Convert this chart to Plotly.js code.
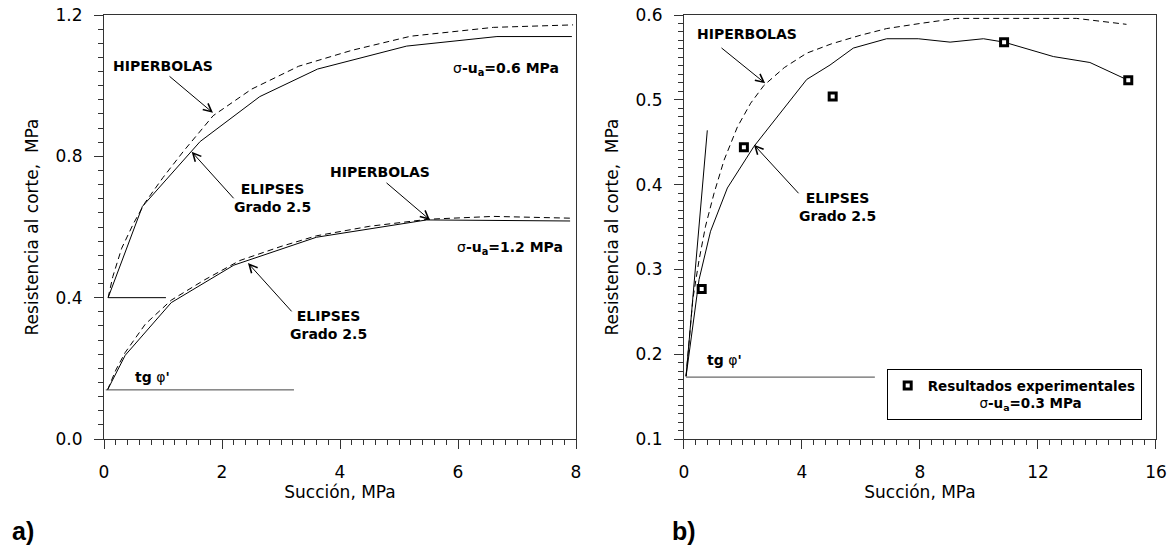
<!DOCTYPE html>
<html>
<head>
<meta charset="utf-8">
<script src="https://cdn.plot.ly/plotly-3.0.1.min.js"></script>
<style>html,body{margin:0;padding:0;background:#fff}#chart{width:1172px;height:550px}</style>
</head>
<body>
<div id="chart"></div>
<script>
// ---- Panel a) : sigma-ua = 0.6 MPa ----
const a06ElipX = [0.07, 0.65, 1.63, 2.64, 3.62, 5.13, 6.66, 7.93];
const a06ElipY = [0.40, 0.658, 0.842, 0.969, 1.047, 1.112, 1.139, 1.139];
const a06HipX = [0.07, 0.15, 0.3, 0.5, 0.7, 1.0, 1.35, 1.85, 2.5, 3.3, 4.2, 5.2, 6.6, 7.95];
const a06HipY = [0.40, 0.46, 0.54, 0.61, 0.67, 0.74, 0.815, 0.915, 0.99, 1.055, 1.10, 1.14, 1.165, 1.172];
const a06TgX = [0.07, 1.05];
const a06TgY = [0.40, 0.40];
// ---- Panel a) : sigma-ua = 1.2 MPa ----
const a12ElipX = [0.06, 0.36, 1.14, 2.2, 3.6, 5.47, 7.9];
const a12ElipY = [0.139, 0.237, 0.386, 0.492, 0.571, 0.62, 0.617];
const a12HipX = [0.06, 0.2, 0.36, 0.7, 1.14, 1.7, 2.3, 3.0, 3.6, 4.5, 5.5, 6.6, 7.9];
const a12HipY = [0.139, 0.195, 0.245, 0.325, 0.393, 0.45, 0.505, 0.545, 0.575, 0.602, 0.622, 0.63, 0.625];
const a12TgX = [0.03, 3.22];
const a12TgY = [0.139, 0.139];
// ---- Panel b) : sigma-ua = 0.3 MPa ----
const bElipX = [0.07, 0.51, 0.90, 1.47, 2.37, 4.16, 4.95, 5.74, 6.87, 7.94, 9.02, 10.15, 10.85, 12.52, 13.76, 15.06];
const bElipY = [0.174, 0.288, 0.345, 0.396, 0.445, 0.524, 0.541, 0.561, 0.572, 0.572, 0.568, 0.572, 0.568, 0.551, 0.544, 0.523];
const bHipX = [0.07, 0.3, 0.51, 0.73, 1.02, 1.36, 1.81, 2.26, 2.71, 3.4, 4.16, 5.0, 5.97, 6.87, 8.0, 9.24, 11.0, 13.3, 15.0];
const bHipY = [0.174, 0.265, 0.311, 0.351, 0.390, 0.429, 0.468, 0.496, 0.517, 0.538, 0.555, 0.566, 0.576, 0.584, 0.59, 0.596, 0.596, 0.596, 0.589];
const bTangX = [0.07, 0.79];
const bTangY = [0.174, 0.464];
const bTgX = [0.07, 6.47];
const bTgY = [0.173, 0.173];
const bExpX = [0.6, 2.03, 5.04, 10.85, 15.06];
const bExpY = [0.277, 0.444, 0.504, 0.568, 0.523];

// tick settings
const aXTicks = {range: [0, 8], dtick: 2, minor: 0.2};
const aYTicks = {range: [0, 1.2], dtick: 0.4, minor: 0.04};
const bXTicks = {range: [0, 16], dtick: 4, minor: 0.4};
const bYTicks = {range: [0.1, 0.6], dtick: 0.1, minor: 0.01};

const FONT = 'DejaVu Sans, Arial, sans-serif';
const solid = {color: '#000', width: 1};
const dashed = {color: '#000', width: 1, dash: '6px,4px'};

function ln(x, y, line, xa, ya) {
  return {x: x, y: y, mode: 'lines', line: line, xaxis: xa, yaxis: ya, showlegend: false, hoverinfo: 'skip'};
}

const traces = [
  ln(a06ElipX, a06ElipY, solid, 'x', 'y'),
  ln(a06HipX, a06HipY, dashed, 'x', 'y'),
  ln(a06TgX, a06TgY, solid, 'x', 'y'),
  ln(a12ElipX, a12ElipY, solid, 'x', 'y'),
  ln(a12HipX, a12HipY, dashed, 'x', 'y'),
  ln(a12TgX, a12TgY, {color: '#444', width: 1}, 'x', 'y'),
  ln(bTangX, bTangY, solid, 'x2', 'y2'),
  ln(bTgX, bTgY, {color: '#444', width: 1}, 'x2', 'y2'),
  ln(bElipX, bElipY, solid, 'x2', 'y2'),
  ln(bHipX, bHipY, dashed, 'x2', 'y2'),
  {
    x: bExpX, y: bExpY, xaxis: 'x2', yaxis: 'y2', mode: 'markers',
    name: '<b>Resultados experimentales</b><br><b>' + '\u00a0'.repeat(11) +
          '<span style="font-weight:normal">σ</span>-u<sub>a</sub>=0.3 MPa</b>',
    marker: {symbol: 'square', size: 7, color: '#fff', line: {color: '#000', width: 3}},
    showlegend: true, hoverinfo: 'skip'
  }
];

function axis(t, extra) {
  return Object.assign({
    range: t.range, dtick: t.dtick, tick0: 0, autorange: false,
    ticks: 'outside', ticklen: 9, tickwidth: 1, tickcolor: '#333',
    minor: {dtick: t.minor, tick0: 0, ticks: 'outside', ticklen: 5, tickwidth: 1, tickcolor: '#333', showgrid: false},
    showline: true, mirror: true, linecolor: '#333', linewidth: 1,
    showgrid: false, zeroline: false,
    tickfont: {family: FONT, size: 17, color: '#000'}
  }, extra);
}

const xTitle = {text: 'Succión, MPa', font: {family: FONT, size: 17, color: '#000'}, standoff: 4};
const yTitle = {text: 'Resistencia al corte,\u00a0\u00a0MPa', font: {family: FONT, size: 17, color: '#000'}, standoff: 12};

const AF = {family: FONT, size: 14, color: '#000'};
function txt(xr, yr, x, y, text, align) {
  return {xref: xr, yref: yr, x: x, y: y, text: text, showarrow: false, font: AF, align: align || 'center',
          xanchor: 'center', yanchor: 'middle'};
}
function arr(xr, yr, x, y, ax, ay) {
  return {xref: xr, yref: yr, x: x, y: y, ax: ax, ay: ay, axref: xr, ayref: yr, text: '',
          showarrow: true, arrowhead: 5, arrowsize: 1.6, arrowwidth: 1, arrowcolor: '#000', standoff: 0};
}
const sig = '<span style="font-weight:normal">σ</span>';
const tg = "<b>tg</b> <span>φ</span><b>'</b>";

const annotations = [
  // panel a
  txt('x', 'y', 1.0, 1.056, '<b>HIPERBOLAS</b>'),
  arr('x', 'y', 1.847, 0.923, 1.085, 1.030),
  txt('x', 'y', 2.85, 0.681, '<b>ELIPSES<br>Grado 2.5</b>'),
  arr('x', 'y', 1.486, 0.813, 2.22, 0.677),
  txt('x', 'y', 4.68, 0.757, '<b>HIPERBOLAS</b>'),
  arr('x', 'y', 5.525, 0.620, 4.763, 0.7285),
  txt('x', 'y', 3.80, 0.322, '<b>ELIPSES<br>Grado 2.5</b>'),
  arr('x', 'y', 2.44, 0.498, 3.203, 0.357),
  txt('x', 'y', 6.82, 1.047, '<b>' + sig + '-u<sub>a</sub>=0.6 MPa</b>'),
  txt('x', 'y', 6.88, 0.541, '<b>' + sig + '-u<sub>a</sub>=1.2 MPa</b>'),
  txt('x', 'y', 0.82, 0.176, tg),
  // panel b
  txt('x2', 'y2', 2.14, 0.578, '<b>HIPERBOLAS</b>'),
  arr('x2', 'y2', 2.75, 0.5195, 1.22, 0.5626),
  txt('x2', 'y2', 5.20, 0.374, '<b>ELIPSES<br>Grado 2.5</b>'),
  arr('x2', 'y2', 2.37, 0.447, 3.93, 0.388),
  txt('x2', 'y2', 1.36, 0.1936, tg),
  // panel labels
  {xref: 'paper', yref: 'paper', x: -0.0773, y: -0.217, xanchor: 'center', yanchor: 'middle',
   text: '<b>a)</b>', showarrow: false,
   font: {family: 'Liberation Sans, Arial, sans-serif', size: 25, color: '#000'}},
  {xref: 'paper', yref: 'paper', x: 0.5513, y: -0.217, xanchor: 'center', yanchor: 'middle',
   text: '<b>b)</b>', showarrow: false,
   font: {family: 'Liberation Sans, Arial, sans-serif', size: 25, color: '#000'}}
];

const layout = {
  width: 1172, height: 550,
  margin: {l: 104, r: 16, t: 15, b: 111, pad: 0},
  paper_bgcolor: '#fff', plot_bgcolor: '#fff',
  font: {family: FONT, color: '#000'},
  xaxis: axis(aXTicks, {domain: [0, 0.44867], anchor: 'y', title: xTitle, ticklabelstandoff: 9}),
  yaxis: axis(aYTicks, {domain: [0, 1], anchor: 'x', tickformat: '.1f', title: yTitle, ticklabelstandoff: 8}),
  xaxis2: axis(bXTicks, {domain: [0.55133, 1], anchor: 'y2', title: xTitle, ticklabelstandoff: 9}),
  yaxis2: axis(bYTicks, {domain: [0, 1], anchor: 'x2', tickformat: '.1f', title: yTitle, ticklabelstandoff: 8}),
  showlegend: true,
  legend: {x: 0.9864, xanchor: 'right', y: 0.1644, yanchor: 'top', bordercolor: '#000', borderwidth: 1,
           bgcolor: '#fff', valign: 'top', font: {family: FONT, size: 13.5, color: '#000'}},
  annotations: annotations
};

Plotly.newPlot('chart', traces, layout, {staticPlot: true, displayModeBar: false});
</script>
</body>
</html>
